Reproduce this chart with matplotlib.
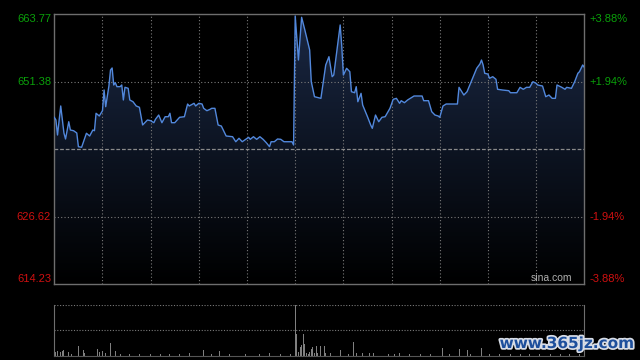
import numpy as np
import matplotlib
matplotlib.use('Agg')
import matplotlib.pyplot as plt
import matplotlib.patheffects as pe

# intraday minute data (HK session, 09:30-12:00 / 13:00-16:00 -> 0..330 min)
minutes = [0, 1, 2, 4, 6, 7, 9, 10, 12, 14, 15, 17, 20, 22, 24, 25, 26, 28, 30, 31,
           32, 34, 35, 36, 37, 38, 39, 41, 42, 43, 44, 46, 47, 49, 51, 53, 55, 58, 60, 62,
           63, 65, 67, 69, 71, 72, 73, 75, 78, 81, 83, 84, 87, 88, 90, 92, 93, 95, 97, 98,
           100, 102, 104, 107, 111, 113, 115, 117, 121, 122, 124, 126, 128, 130, 132, 134, 135, 137, 139, 141,
           143, 148, 149, 150, 152, 154, 156, 158, 159, 160, 162, 166, 169, 171, 173, 174, 176, 178, 179, 180,
           182, 184, 185, 187, 188, 189, 191, 192, 195, 197, 198, 200, 202, 204, 206, 209, 211, 213, 215, 216,
           218, 220, 224, 229, 230, 233, 235, 237, 239, 240, 242, 244, 251, 252, 255, 257, 260, 263, 265, 266,
           267, 268, 270, 271, 273, 275, 276, 279, 283, 284, 288, 290, 292, 294, 296, 298, 300, 301, 304, 306,
           308, 310, 312, 313, 316, 318, 319, 322, 324, 326, 327, 329, 330]
prices = [644.87, 644.38, 641.62, 646.95, 641.99, 640.89, 644.06, 642.54, 642.41, 641.99, 639.48, 639.37, 641.94, 641.44, 642.54, 642.41, 645.61, 645.11, 646.08, 649.88,
          646.82, 650.61, 653.55, 653.92, 650.80, 651.22, 650.49, 650.49, 650.80, 648.05, 650.38, 650.19, 648.05, 647.73, 646.95, 646.71, 643.46, 644.38, 644.25, 643.88,
          644.51, 645.29, 643.88, 644.98, 644.98, 645.61, 643.88, 643.88, 644.87, 644.98, 647.31, 646.95, 647.44, 646.95, 647.44, 647.31, 646.52, 646.08, 646.34, 646.52,
          646.52, 643.46, 643.27, 641.44, 641.31, 640.39, 641.02, 640.39, 641.20, 640.83, 641.31, 640.83, 641.31, 640.83, 640.21, 639.48, 640.39, 640.39, 640.89, 640.83,
          640.39, 640.39, 639.79, 663.46, 655.38, 663.22, 660.89, 658.45, 657.22, 651.40, 648.65, 648.35, 654.47, 655.99, 652.32, 652.63, 657.22, 661.81, 657.82, 652.63,
          653.86, 653.24, 649.57, 649.38, 650.49, 647.73, 649.27, 647.13, 644.98, 643.46, 642.85, 645.29, 644.06, 644.87, 644.98, 646.52, 648.17, 648.35, 647.44, 647.92,
          647.55, 648.05, 648.78, 648.78, 647.92, 647.92, 645.90, 645.29, 645.11, 644.87, 646.95, 647.31, 647.31, 650.37, 648.96, 649.57, 651.71, 653.86, 654.65, 655.38,
          654.47, 652.94, 652.81, 652.03, 652.32, 651.84, 650.01, 649.88, 649.75, 649.38, 649.38, 650.37, 650.01, 650.37, 650.37, 651.40, 651.11, 650.80, 650.61, 648.65,
          648.96, 648.35, 648.35, 650.80, 650.37, 650.01, 650.37, 650.19, 651.40, 652.94, 653.24, 654.47, 654.04]

vol_minutes = [0, 1, 2, 4, 5, 6, 9, 11, 15, 18, 19, 27, 28, 30, 32, 35, 38, 41, 47, 53,
               60, 66, 72, 78, 84, 93, 98, 103, 109, 119, 128, 134, 141, 147,
               150, 151, 152, 153, 154, 155, 156, 157, 158, 159, 160, 161, 162, 163, 164, 166,
               168, 169, 172, 178, 181, 183, 186, 188, 192, 196, 199, 208, 212, 215, 221, 228, 234, 242, 246, 252,
               257, 259, 266, 271, 277, 284, 290, 296, 302, 309, 315, 321, 327]
volumes = [80, 40, 47, 33, 47, 57, 33, 20, 97, 57, 25, 67, 35, 47, 25, 123, 47, 15, 20, 15,
           15, 15, 15, 20, 25, 57, 15, 47, 15, 15, 15, 30, 15, 15,
           507, 213, 40, 90, 107, 213, 113, 30, 20, 40, 67, 83, 25, 97, 30, 97,
           97, 25, 25, 57, 25, 20, 137, 25, 25, 25, 25, 15, 20, 25, 15, 20, 20, 80, 20, 67,
           57, 20, 80, 20, 15, 15, 15, 15, 15, 15, 15, 15, 15]

prev_close = 639.00
price_ticks = [663.77, 651.38, 639.00, 626.62, 614.23]
pct_labels = ['+3.88%', '+1.94%', '', '-1.94%', '-3.88%']
label_va = ['top', 'center', 'center', 'center', 'bottom']

GRID = '#7a7a7a'
SPINE = '#6e6e6e'
GREEN = '#0aa00a'
RED = '#d01010'

fig = plt.figure(figsize=(6.4, 3.6), dpi=100, facecolor='black')
plt.rcParams['font.family'] = ['Liberation Sans', 'DejaVu Sans']

ax = fig.add_axes([54.3/640, 1-284.3/360, 530/640, 270/360], facecolor='black')
ax.set_xlim(0, 330)
ax.set_ylim(price_ticks[-1], price_ticks[0])

# gradient fill under price line
grad = np.linspace(1, 0, 256).reshape(-1, 1)
top_rgb = np.array([26, 40, 68]) / 255.0
img = grad[..., None] * top_rgb[None, None, :]
im = ax.imshow(img, extent=[0, 330, price_ticks[-1], price_ticks[0]], aspect='auto', zorder=1)
clip = plt.Polygon(np.vstack([np.column_stack([minutes, prices]),
                              [[330, price_ticks[-1]], [0, price_ticks[-1]]]]),
                   closed=True, transform=ax.transData, facecolor='none', edgecolor='none')
ax.add_patch(clip)
im.set_clip_path(clip)

# grid
for m in range(30, 330, 30):
    ax.axvline(m, color=GRID, lw=0.8, ls=(0, (1, 2)), zorder=2)
for p in [price_ticks[1], price_ticks[3]]:
    ax.axhline(p, color=GRID, lw=0.8, ls=(0, (1, 2)), zorder=2)
ax.axhline(prev_close, color='#8a8a8a', lw=0.9, ls=(0, (3, 1.5)), zorder=2)

ax.plot(minutes, prices, color='#5288dc', lw=1.0, zorder=3)

for s in ax.spines.values():
    s.set_color(SPINE)
    s.set_linewidth(1.0)
ax.set_xticks([])
ax.set_yticks([])

for p, pl, va in zip(price_ticks, pct_labels, label_va):
    if p == prev_close:
        continue
    c = GREEN if p > prev_close else RED
    ax.text(-0.006, p, '%.2f' % p, transform=ax.get_yaxis_transform(), ha='right', va=va,
            color=c, fontsize=8)
    ax.text(1.01, p, pl, transform=ax.get_yaxis_transform(), ha='left', va=va,
            color=c, fontsize=8)

ax.text(0.978, 0.004, 'sina.com', transform=ax.transAxes, ha='right', va='bottom',
        color='#b0b0b0', fontsize=7.5, zorder=4)

# volume panel
vax = fig.add_axes([54.3/640, 1-355.7/360, 530/640, 50.7/360], facecolor='black')
vax.set_xlim(0, 330)
vax.set_ylim(0, max(volumes))
vax.bar(vol_minutes, volumes, width=0.6, color='#808080', lw=0)
vax.axhline(max(volumes), color=GRID, lw=0.8, ls=(0, (1, 1.5)))
vax.axhline(max(volumes) / 2, color=GRID, lw=0.8, ls=(0, (1, 1.5)))
vax.spines['top'].set_visible(False)
vax.spines['bottom'].set_color('#555555')
for k in ['left', 'right']:
    vax.spines[k].set_color(SPINE)
vax.set_xticks([])
vax.set_yticks([])

fig.text(0.99, 0.025, 'www.365jz.com', ha='right', va='bottom', color='#1d4f9c',
         fontsize=11, fontweight='bold', family=['DejaVu Sans'],
         path_effects=[pe.withStroke(linewidth=2.5, foreground='#d8dde6')])

fig.savefig('out.png', dpi=100, facecolor='black')
